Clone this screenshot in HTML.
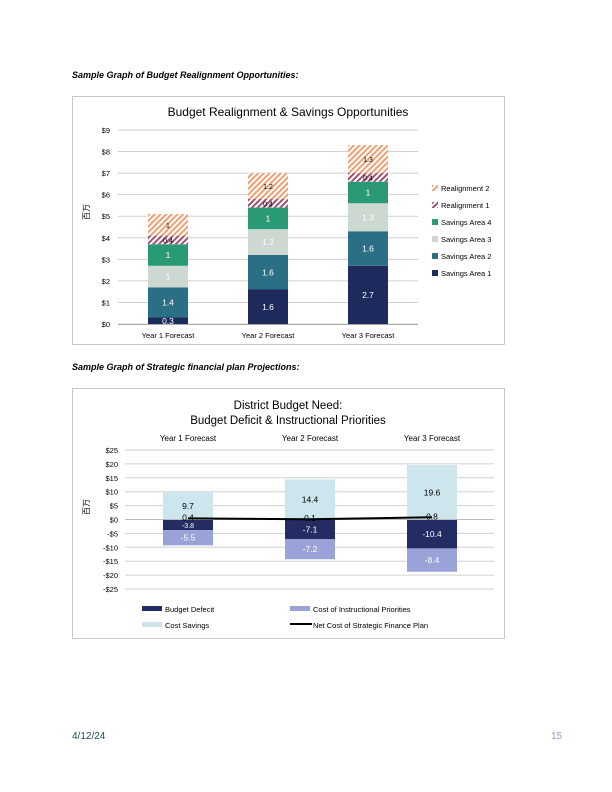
<!DOCTYPE html>
<html><head><meta charset="utf-8">
<style>
body{margin:0;background:#fff;}
#page{position:relative;width:612px;height:792px;font-family:"Liberation Sans","Noto Sans CJK SC",sans-serif;}
.cap{position:absolute;left:72px;font-size:9px;font-weight:bold;font-style:italic;color:#000;}
</style></head><body>
<div id="page">
<div class="cap" style="top:70px">Sample Graph of Budget Realignment Opportunities:</div>
<div class="cap" style="top:362px">Sample Graph of Strategic financial plan Projections:</div>
<div style="position:absolute;left:72px;top:731px;font-size:10px;color:#1f4e5a">4/12/24</div>
<div style="position:absolute;left:551px;top:731px;font-size:10px;color:#9999cc">15</div>
<svg id="svg" width="612" height="792" style="position:absolute;left:0;top:0" font-family="Liberation Sans, Noto Sans CJK SC, sans-serif">
<defs>
<pattern id="pOrange" width="4" height="4" patternUnits="userSpaceOnUse" patternTransform="rotate(45)"><rect width="4" height="4" fill="#fff"/><rect width="2" height="4" fill="#f0a070"/></pattern>
<pattern id="pRed" width="4" height="4" patternUnits="userSpaceOnUse" patternTransform="rotate(45)"><rect width="4" height="4" fill="#fff"/><rect width="2" height="4" fill="#a05070"/></pattern>
</defs>
<rect x="72.5" y="96.5" width="432" height="248" fill="#fff" stroke="#c8c8c8"/>
<rect x="72.5" y="388.5" width="432" height="250" fill="#fff" stroke="#c8c8c8"/>
<g id="c1"></g><g id="c2"></g>
</svg>
</div>
<script>
// Chart 1 data
const cats1 = ["Year 1 Forecast","Year 2 Forecast","Year 3 Forecast"];
const series1Names = ["Savings Area 1","Savings Area 2","Savings Area 3","Savings Area 4","Realignment 1","Realignment 2"];
const sa1 = [0.3,1.6,2.7];
const sa2 = [1.4,1.6,1.6];
const sa3 = [1,1.2,1.3];
const sa4 = [1,1,1];
const re1 = [0.4,0.4,0.4];
const re2 = [1,1.2,1.3];
const ticks1 = [0,1,2,3,4,5,6,7,8,9];
// Chart 2 data
const cats2 = ["Year 1 Forecast","Year 2 Forecast","Year 3 Forecast"];
const costSavings = [9.7,14.4,19.6];
const budgetDeficit = [-3.8,-7.1,-10.4];
const instrCost = [-5.5,-7.2,-8.4];
const netCost = [0.4,0.1,0.8];
const ticks2 = [25,20,15,10,5,0,-5,-10,-15,-20,-25];

const NS="http://www.w3.org/2000/svg";
function mk(parent,tag,attrs,text){const e=document.createElementNS(NS,tag);for(const k in attrs)e.setAttribute(k,attrs[k]);if(text!==undefined)e.textContent=text;parent.appendChild(e);return e;}

// ---- Chart 1
const g1=document.getElementById('c1');
const y1=v=>324-v*21.56;
const x1=i=>168+i*100;
mk(g1,'text',{x:288,y:116,'font-size':12,'text-anchor':'middle',fill:'#000'},'Budget Realignment & Savings Opportunities');
ticks1.forEach(t=>{
  const l=mk(g1,'line',{x1:118,x2:418,y1:y1(t),y2:y1(t),stroke:'#d0d0d0'});
  
  const tx=mk(g1,'text',{x:110,y:y1(t)+3,'font-size':7.5,'text-anchor':'end',fill:'#000'},'$'+t);
  
});
const yt1=mk(g1,'text',{x:0,y:0,'font-size':8,'text-anchor':'middle',transform:'translate(89,212) rotate(-90)'},'百万');

const s1=[sa1,sa2,sa3,sa4,re1,re2];
const fills1=['#1f2a5c','#2a6f86','#cdd8d0','#2a9a76','url(#pRed)','url(#pOrange)'];
const lblCol=['#fff','#fff','#fff','#fff','#000','#000'];
cats1.forEach((c,i)=>{
  let base=0;
  s1.forEach((s,j)=>{
    const v=s[i];const top=base+v;
    const r=mk(g1,'rect',{x:x1(i)-20,y:y1(top),width:40,height:y1(base)-y1(top),fill:fills1[j]});
    
    
    const t=mk(g1,'text',{x:x1(i),y:(y1(base)+y1(top))/2+3,'font-size':(j>=4?7:8.5),'text-anchor':'middle',fill:lblCol[j]},String(v));
    
    base=top;
  });
  const tl=mk(g1,'text',{x:x1(i),y:338,'font-size':7.5,'text-anchor':'middle'},c);
  
});
mk(g1,'line',{x1:118,x2:418,y1:324.5,y2:324.5,stroke:'#aaa'});
const legOrder=[5,4,3,2,1,0];
legOrder.forEach((j,k)=>{
  const ly=191+k*17;
  const r=mk(g1,'rect',{x:432,y:ly-6,width:6,height:6,fill:fills1[j]});
  
  const t=mk(g1,'text',{x:441,y:ly,'font-size':7.5},series1Names[j]);
  
});

// ---- Chart 2
const g2=document.getElementById('c2');
const y2=v=>519.5-v*2.78;
const x2=i=>188+i*122;
const tt1=mk(g2,'text',{x:288,y:409,'font-size':11.5,'text-anchor':'middle'},'District Budget Need:');

const tt2=mk(g2,'text',{x:288,y:424,'font-size':11.5,'text-anchor':'middle'},'Budget Deficit & Instructional Priorities');

ticks2.forEach(t=>{
  const l=mk(g2,'line',{x1:125,x2:494,y1:y2(t),y2:y2(t),stroke:'#d0d0d0'});
  
  const tx=mk(g2,'text',{x:118,y:y2(t)+3,'font-size':7.5,'text-anchor':'end'},(t<0?'-$'+(-t):'$'+t));
  
});
const yt2=mk(g2,'text',{x:0,y:0,'font-size':8,'text-anchor':'middle',transform:'translate(89,507) rotate(-90)'},'百万');

cats2.forEach((c,i)=>{
  const cx=x2(i);
  const cl=mk(g2,'text',{x:cx,y:441,'font-size':8,'text-anchor':'middle'},c);
  
  const r1=mk(g2,'rect',{x:cx-25,y:y2(costSavings[i]),width:50,height:y2(0)-y2(costSavings[i]),fill:'#cde6ee'});
  
  
  mk(g2,'text',{x:cx,y:(y2(0)+y2(costSavings[i]))/2+3,'font-size':8.5,'text-anchor':'middle'},String(costSavings[i]));
  const d=budgetDeficit[i];
  const r2=mk(g2,'rect',{x:cx-25,y:y2(0),width:50,height:y2(d)-y2(0),fill:'#232c63'});
  
  
  mk(g2,'text',{x:cx,y:(y2(0)+y2(d))/2+3,'font-size':(i==0?7:8.5),'text-anchor':'middle',fill:'#fff'},String(d));
  const ic=instrCost[i];
  const r3=mk(g2,'rect',{x:cx-25,y:y2(d),width:50,height:y2(d+ic)-y2(d),fill:'#9aa3d8'});
  
  
  mk(g2,'text',{x:cx,y:(y2(d)+y2(d+ic))/2+3,'font-size':8.5,'text-anchor':'middle',fill:'#fff'},String(ic));
});
mk(g2,'line',{x1:125,x2:494,y1:y2(0),y2:y2(0),stroke:'#bbb'});
const pts=netCost.map((v,i)=>x2(i)+','+y2(v)).join(' ');
const pl=mk(g2,'polyline',{points:pts,fill:'none',stroke:'#000','stroke-width':2});


netCost.forEach((v,i)=>{
  mk(g2,'text',{x:x2(i),y:y2(v)+2,'font-size':8.5,'text-anchor':'middle'},String(v));
});
const leg2=[['Budget Defecit','#232c63',142,609],['Cost of Instructional Priorities','#9aa3d8',290,609],['Cost Savings','#cde6ee',142,625]];
leg2.forEach(l=>{
  const r=mk(g2,'rect',{x:l[2],y:l[3]-3,width:20,height:5,fill:l[1]});
  
  const t=mk(g2,'text',{x:l[2]+23,y:l[3]+3,'font-size':7.5},l[0]);
  
});
const ll=mk(g2,'line',{x1:290,x2:312,y1:624,y2:624,stroke:'#000','stroke-width':2});

const lt=mk(g2,'text',{x:313,y:628,'font-size':7.5},'Net Cost of Strategic Finance Plan');

</script>
</body></html>
